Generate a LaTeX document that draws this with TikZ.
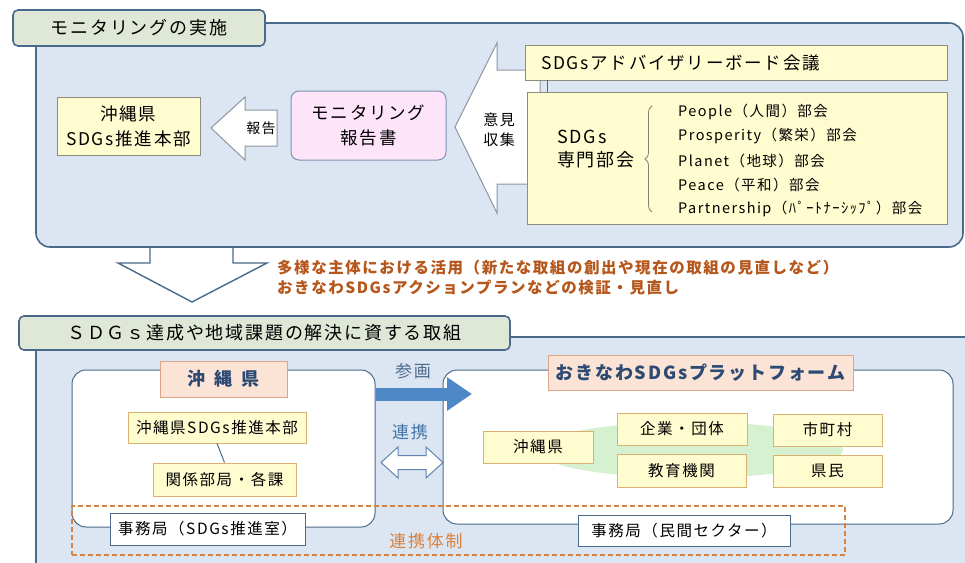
\documentclass[tikz,border=0pt]{standalone}
\usepackage{fontspec}
\setmainfont{Noto Sans CJK JP}[LetterSpace=10]
\usetikzlibrary{positioning,arrows.meta,decorations.pathreplacing}
\definecolor{bdr}{HTML}{4A6A8C}
\definecolor{pnl}{HTML}{DCE6F2}
\definecolor{tabg}{HTML}{DFE8D6}
\definecolor{ylw}{HTML}{FFFDD0}
\definecolor{ybd}{HTML}{8C8C80}
\definecolor{obd}{HTML}{DDB070}
\definecolor{pnk}{HTML}{FDE4F8}
\definecolor{pkbd}{HTML}{7F93B3}
\definecolor{slm}{HTML}{FBE3D5}
\definecolor{sbd}{HTML}{E0A585}
\definecolor{ttl}{HTML}{2C4A73}
\definecolor{orn}{HTML}{B5561B}
\definecolor{orn2}{HTML}{D9823F}
\definecolor{arrblue}{HTML}{4F88C6}
\definecolor{grn}{HTML}{D6F1CF}
\definecolor{gry}{HTML}{8C96A0}
\tikzset{
  wh/.style 2 args={minimum width=#1pt, minimum height=#2pt},
  panel/.style={draw=bdr, fill=pnl, line width=1.6pt, rounded corners=14pt},
  tabbox/.style={draw=bdr, fill=tabg, line width=1.6pt, rounded corners=5pt, inner sep=0pt, font=\fontsize{18}{20}\selectfont},
  ybox/.style={draw=ybd, fill=ylw, line width=0.8pt, inner sep=0pt},
  obox/.style={draw=obd, fill=ylw, line width=0.9pt, inner sep=0pt, font=\fontsize{15.5}{18}\selectfont},
  wbox/.style={draw=bdr, fill=white, line width=1pt, inner sep=0pt, font=\fontsize{15.5}{18}\selectfont},
  ttlbox/.style={draw=sbd, fill=slm, line width=1pt, inner sep=0pt, text=ttl, font=\bfseries\fontsize{18}{20}\selectfont},
  hollow/.style={draw=gry, fill=white, line width=1pt},
  lbl/.style={inner sep=0pt}
}
\begin{document}
\begin{tikzpicture}[x=1pt, y=-1pt]
\useasboundingbox (0,0) rectangle (965,562);
% monitoring
\draw[panel] (36,23) rectangle (963,247);
\node[tabbox, wh={252}{36}] (tabmon) at (139,28) {モニタリングの実施};
\node[ybox, wh={143}{58}, align=center, font=\fontsize{17.5}{25}\selectfont] (hq) at (128.5,126) {沖縄県\\SDGs推進本部};
\draw[hollow] (211,128) -- (245,97) -- (245,110) -- (277,110) -- (277,146) -- (245,146) -- (245,160) -- cycle;
\node[lbl, font=\fontsize{14}{16}\selectfont] (rep) at (261,128) {報告};
\node[draw=pkbd, fill=pnk, rounded corners=8pt, line width=1pt, wh={155}{69}, align=center, font=\fontsize{17.5}{25}\selectfont] (mrep) at (368.5,125.5) {モニタリング\\報告書};
\draw[hollow] (455,127) -- (497,43) -- (497,70) -- (540,70) -- (540,184) -- (497,184) -- (497,213) -- cycle;
\node[lbl, align=center, font=\fontsize{15}{20}\selectfont] (opin) at (499,130) {意見\\収集};
\node[ybox, wh={422}{35}, text width=390pt, inner xsep=16pt, align=left, font=\fontsize{17.5}{20}\selectfont] (adv) at (736,62.5) {SDGsアドバイザリーボード会議};
\node[ybox, wh={420}{132}] (spec) at (737,158) {};
\draw[bdr, line width=0.8pt] ([xshift=-189pt]adv.south) -- ([xshift=-190pt]spec.north);
\node[lbl, anchor=west, align=left, font=\fontsize{18}{23}\selectfont] (specname) at (557,149) {SDGs\\専門部会};
\draw[gray, line width=0.8pt, decorate, decoration={brace, amplitude=7pt}] (652,212) -- (652,106);
\foreach \txt [count=\i] in {People（人間）部会, Prosperity（繁栄）部会, Planet（地球）部会, Peace（平和）部会, Partnership（ﾊﾟｰﾄﾅｰｼｯﾌﾟ）部会}
  \node[lbl, anchor=west, font=\fontsize{14.5}{16}\selectfont] (sub\i) at (678,88+24.2*\i) {\txt};
% down arrow
\draw[hollow, draw=bdr, line width=1.4pt] (150,248) -- (150,263) -- (118,263) -- (192,302) -- (267,263) -- (233,263) -- (233,248);
\node[lbl, anchor=west, align=left, text=orn, font=\bfseries\fontsize{15.5}{20}\selectfont] (use) at (277,278) {多様な主体における活用（新たな取組の創出や現在の取組の見直しなど）\\おきなわSDGsアクションプランなどの検証・見直し};
% actions
\draw[panel] (36,337) rectangle (990,580);
\node[tabbox, wh={491}{34}] (tabsdg) at (264.5,333) {ＳＤＧｓ達成や地域課題の解決に資する取組};
\node[wbox, rounded corners=14pt, wh={303}{157}] (okibox) at (223.5,448.5) {};
\node[wbox, rounded corners=14pt, wh={510}{154}] (platbox) at (698,447) {};
\node[ttlbox, wh={127}{36}] (okititle) at (223.5,379) {沖\hspace{9pt}縄\hspace{9pt}県};
\node[ttlbox, wh={305}{35}] (plattitle) at (700.5,372.5) {おきなわSDGsプラットフォーム};
\node[obox, wh={178}{31}] (hq2) at (217,427.5) {沖縄県SDGs推進本部};
\node[obox, wh={143}{33}] (dept) at (224.5,479.5) {関係部局・各課};
\draw[bdr, line width=1pt] (hq2.south) -- (dept.north);
\fill[grn] (690,450) ellipse [x radius=153pt, y radius=28pt];
\node[obox, wh={110}{32}] (p1) at (538,447) {沖縄県};
\node[obox, wh={130}{32}] (p2) at (682,429) {企業・団体};
\node[obox, wh={129}{33}] (p3) at (681.5,470.5) {教育機関};
\node[obox, wh={109}{32}] (p4) at (827.5,430) {市町村};
\node[obox, wh={109}{32}] (p5) at (827.5,471) {県民};
\node[draw=orn2, line width=1.2pt, dash pattern=on 5pt off 3pt, wh={773}{49}] (coop) at (458.5,530.5) {};
\node[wbox, wh={195}{32}] (sec1) at (207.5,529) {事務局（SDGs推進室）};
\node[wbox, wh={212}{31}] (sec2) at (684,530.5) {事務局（民間セクター）};
\node[lbl, text=orn2, font=\fontsize{17}{20}\selectfont] (coopname) at (426,541) {連携体制};
% join and link
\coordinate (jointip) at (472,394);
\draw[arrblue, line width=13pt, -{Triangle[length=25pt, width=32pt]}] (okibox.east |- jointip) -- (jointip);
\node[lbl, text=bdr, font=\fontsize{17}{20}\selectfont] (join) at (413,371) {参画};
\node[lbl, text=arrblue!85!black, font=\fontsize{17}{20}\selectfont] (link) at (410,432) {連携};
\draw[hollow, draw=arrblue!70!gray] (381,462.5) -- (398,447) -- (398,455.5) -- (426,455.5) -- (426,447) -- (443,462.5) -- (426,478) -- (426,469.5) -- (398,469.5) -- (398,478) -- cycle;
\end{tikzpicture}
\end{document}
